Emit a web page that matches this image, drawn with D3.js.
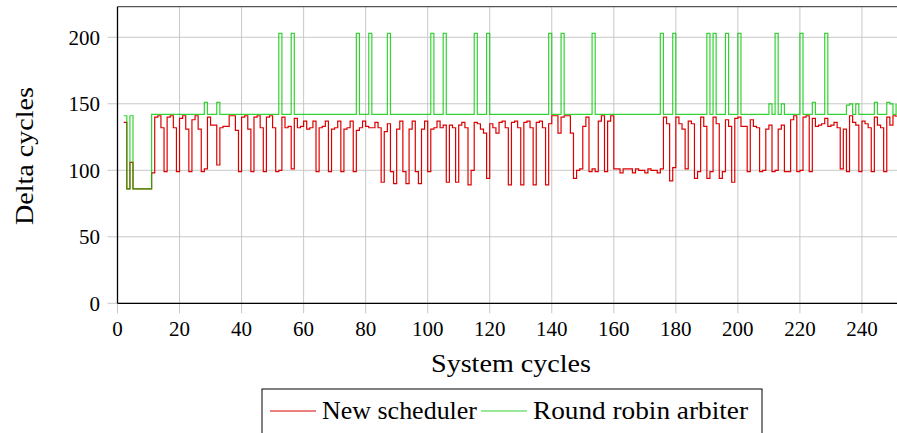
<!DOCTYPE html>
<html>
<head>
<meta charset="utf-8">
<script src="https://cdn.jsdelivr.net/npm/d3@7"></script>
<style>
  body { margin: 0; background: #fff; }
  text { font-family: "Liberation Serif", "DejaVu Serif", serif; fill: #000; }
</style>
</head>
<body>
<svg id="chart" width="897" height="433"></svg>
<script>
// data: one value per system cycle, starting at cycle 2
var firstCycle = 2;

var newScheduler = [
  136, 86,106, 86, 86, 86, 86, 86, 86, 98,
  140,141,132, 99,140,141,132, 99,139,141,
  131, 99,138,141,131, 99,101,140,134,134,
  104,132,133,133,141,141,130, 99,140,141,
  131, 99,140,141,132, 99,140,141,132, 99,
  100,140,132,133,101,139,132,133,137,131,
  132,137, 99,132,133,137, 99,131,132,137,
   99,131,132,137, 99,130,132,137,133,132,
  132,136,132, 91,129,135, 99, 90,131,137,
   99, 90,131,137, 99, 90,131,137, 99,131,
  132,137,132,134, 91,134,132, 91,134,136,
  132, 89,100,136,135,131,128, 94,135,132,
  128,136,137,132, 89,136,137,132, 89,136,
  137,132, 89,136,137,132, 89,135,141,141,
  128,140,141,141,128, 94,100,101,133,140,
   99,101, 99,137,141, 99,137,141,101,101,
   98,101,101,101, 98,101,100,100, 98,101,
  100,100, 98,101,140,135, 92,102,140,135,
  131,101,137,135, 94, 99,140,133, 94, 99,
  140,135, 94, 99,138,133, 91,139,140,133,
  133, 99,138,133,132, 99,100,131,134, 99,
  100,131,134, 99, 99,138,141, 99,100,140,
  141, 99,139,133,134,135,139,133,134,136,
  132,101,131, 99,141,136,134, 99,137,135,
  132, 99,140,134,132, 99,140,134,141,140
];

var roundRobin = [
  141, 86,141, 86, 86, 86, 86, 86, 86,142,
  142,142,142,142,142,142,142,142,142,142,
  142,142,142,142,142,142,151,142,142,142,
  151,142,142,142,142,142,142,142,142,142,
  142,142,142,142,142,142,142,142,142,142,
  203,142,142,142,203,142,142,142,142,142,
  142,142,142,142,142,142,142,142,142,142,
  142,142,142,142,142,203,142,142,142,203,
  142,142,142,142,142,203,142,142,142,142,
  142,142,142,142,142,142,142,142,142,203,
  142,142,142,203,142,142,142,142,142,142,
  142,142,142,203,142,142,142,203,142,142,
  142,142,142,142,142,142,142,142,142,142,
  142,142,142,142,142,142,142,203,142,142,
  142,203,142,142,142,142,142,142,142,142,
  142,203,142,142,142,142,142,142,142,142,
  142,142,142,142,142,142,142,142,142,142,
  142,142,142,203,142,142,142,203,142,142,
  142,142,142,142,142,142,142,142,203,142,
  203,142,142,142,203,142,142,142,203,142,
  142,142,142,142,142,142,142,142,150,142,
  203,142,150,142,142,142,142,142,203,142,
  142,142,151,142,142,142,203,142,142,142,
  142,142,142,149,150,142,150,142,142,142,
  142,142,151,142,142,142,151,150,142,150
];

var xTicks = [0, 20, 40, 60, 80, 100, 120, 140, 160, 180, 200, 220, 240];
var yTicks = [0, 50, 100, 150, 200];
var seriesNames = ["New scheduler", "Round robin arbiter"];
var seriesColors = ["#dd0000", "#00c800"];

var plotLeft = 117.5, plotRight = 897, plotTop = 6.7, plotBottom = 303.3;

var x = d3.scaleLinear().domain([0, 251.3]).range([plotLeft, plotRight]);
var y = d3.scaleLinear().domain([0, 223]).range([plotBottom, plotTop]);

var svg = d3.select("#chart");

svg.append("defs").append("clipPath").attr("id", "plotclip")
  .append("rect")
  .attr("x", plotLeft).attr("y", plotTop)
  .attr("width", plotRight - plotLeft).attr("height", plotBottom - plotTop);

// grid
svg.append("g").selectAll("line").data(xTicks).enter().append("line")
  .attr("x1", function(d) { return x(d); }).attr("x2", function(d) { return x(d); })
  .attr("y1", plotTop).attr("y2", plotBottom + 10)
  .attr("stroke", "#c8c8c8").attr("stroke-width", 1);

svg.append("g").selectAll("line").data(yTicks).enter().append("line")
  .attr("y1", function(d) { return y(d); }).attr("y2", function(d) { return y(d); })
  .attr("x1", plotLeft - 10).attr("x2", plotRight)
  .attr("stroke", "#c8c8c8").attr("stroke-width", 1);

// tick labels
svg.append("g").selectAll("text").data(xTicks).enter().append("text")
  .attr("x", function(d) { return x(d); })
  .attr("y", 336)
  .attr("text-anchor", "middle")
  .style("font-size", "21px")
  .text(function(d) { return d; });

svg.append("g").selectAll("text").data(yTicks).enter().append("text")
  .attr("x", 100)
  .attr("y", function(d) { return y(d); })
  .attr("dy", "0.35em")
  .attr("text-anchor", "end")
  .style("font-size", "21px")
  .text(function(d) { return d; });

// lines
var stepLine = d3.line()
  .x(function(d, i) { return x(firstCycle + i); })
  .y(function(d) { return y(d); })
  .curve(d3.curveStepAfter);

var plot = svg.append("g").attr("clip-path", "url(#plotclip)");

plot.append("path")
  .datum(newScheduler)
  .attr("fill", "none")
  .attr("stroke", seriesColors[0])
  .attr("stroke-width", 1.2)
  .attr("d", stepLine);

plot.append("path")
  .datum(roundRobin)
  .attr("fill", "none")
  .attr("stroke", seriesColors[1])
  .attr("stroke-opacity", 0.8)
  .attr("stroke-width", 1.2)
  .attr("d", stepLine);

// frame
svg.append("line").attr("x1", plotLeft).attr("x2", plotRight).attr("y1", plotTop).attr("y2", plotTop)
  .attr("stroke", "#555").attr("stroke-width", 1.3);
svg.append("line").attr("x1", plotLeft).attr("x2", plotLeft).attr("y1", plotTop).attr("y2", plotBottom)
  .attr("stroke", "#000").attr("stroke-width", 1.3);
svg.append("line").attr("x1", plotLeft).attr("x2", plotRight).attr("y1", plotBottom).attr("y2", plotBottom)
  .attr("stroke", "#000").attr("stroke-width", 1.3);

// axis titles
svg.append("text")
  .attr("x", 511).attr("y", 372)
  .attr("text-anchor", "middle")
  .attr("textLength", 160).attr("lengthAdjust", "spacingAndGlyphs")
  .style("font-size", "25px")
  .text("System cycles");

svg.append("text")
  .attr("transform", "translate(33,156) rotate(-90)")
  .attr("text-anchor", "middle")
  .attr("textLength", 138).attr("lengthAdjust", "spacingAndGlyphs")
  .style("font-size", "25px")
  .text("Delta cycles");

// legend
var legend = svg.append("g");
legend.append("rect")
  .attr("x", 262).attr("y", 389).attr("width", 500).attr("height", 60)
  .attr("fill", "#fff").attr("stroke", "#000").attr("stroke-width", 1);

var legendItems = [
  { x1: 270, x2: 316, tx: 322, tw: 155 },
  { x1: 481, x2: 527, tx: 533, tw: 215 }
];
legendItems.forEach(function(it, i) {
  legend.append("line")
    .attr("x1", it.x1).attr("x2", it.x2).attr("y1", 411).attr("y2", 411)
    .attr("stroke", seriesColors[i]).attr("stroke-width", 1.2)
    .attr("stroke-opacity", i == 1 ? 0.8 : 1);
  legend.append("text")
    .attr("x", it.tx).attr("y", 419)
    .attr("textLength", it.tw).attr("lengthAdjust", "spacingAndGlyphs")
    .style("font-size", "25px")
    .text(seriesNames[i]);
});
</script>
</body>
</html>
